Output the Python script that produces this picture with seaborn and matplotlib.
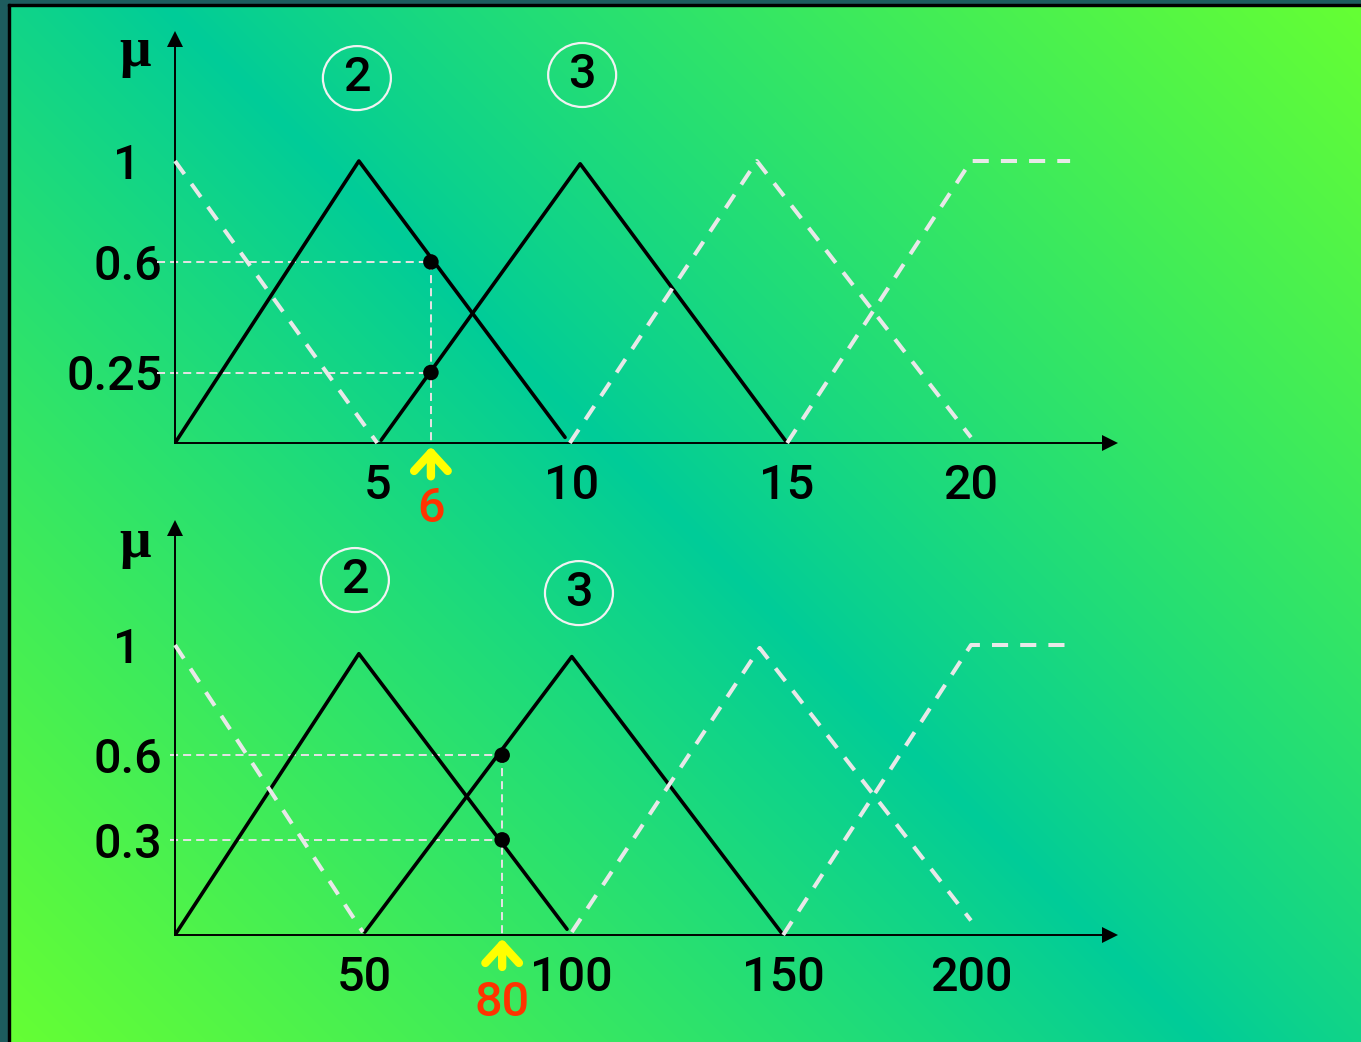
import numpy as np
import pandas as pd
import matplotlib
matplotlib.use("Agg")
import matplotlib.pyplot as plt
import seaborn as sns
from matplotlib.patches import Ellipse, Rectangle

# ---------------- data ----------------
# top panel: input in [0, 20]
top_mf2_x = [0.0, 4.62, 9.80]
top_mf2_y = [0.0, 1.00, 0.02]
top_mf3_x = [5.18, 10.18, 15.38]
top_mf3_y = [0.01, 0.99, 0.0]
top_mf1_x = [0.0, 5.08]
top_mf1_y = [1.0, 0.0]
top_mf4_x = [9.92, 14.62, 20.0]
top_mf4_y = [0.0, 1.0, 0.02]
top_mf5_x = [15.38, 20.0, 22.49]
top_mf5_y = [0.0, 1.0, 1.0]
top_xtick_pos = [5.08, 9.97, 15.38, 20.0]
top_xtick_labels = ["5", "10", "15", "20"]
top_ytick_major = [1.0]
top_ytick_minor = [0.642, 0.25]
top_ytick_minor_labels = ["0.6", "0.25"]
top_input = 6.43
top_input_label = "6"
top_degrees = [0.642, 0.25]
top_circle_labels = ["2", "3"]
top_circle_x = [4.57, 10.23]
top_circle_y = [1.294, 1.305]

# bottom panel: input in [0, 200]
bot_mf2_x = [0.0, 46.2, 98.5]
bot_mf2_y = [0.0, 0.97, 0.02]
bot_mf3_x = [47.7, 99.7, 152.8]
bot_mf3_y = [0.01, 0.96, 0.0]
bot_mf1_x = [0.0, 47.2]
bot_mf1_y = [1.0, 0.01]
bot_mf4_x = [99.7, 146.9, 200.0]
bot_mf4_y = [0.01, 0.99, 0.05]
bot_mf5_x = [152.8, 200.0, 224.9]
bot_mf5_y = [0.0, 1.0, 1.0]
bot_xtick_pos = [47.5, 99.7, 152.8, 200.0]
bot_xtick_labels = ["50", "100", "150", "200"]
bot_ytick_major = [1.0]
bot_ytick_minor = [0.62, 0.328]
bot_ytick_minor_labels = ["0.6", "0.3"]
bot_input = 82.2
bot_input_label = "80"
bot_degrees = [0.62, 0.328]
bot_circle_labels = ["2", "3"]
bot_circle_x = [45.2, 101.5]
bot_circle_y = [1.224, 1.179]

# ---------------- style ----------------
sns.set_style("white")
plt.rcParams["font.family"] = ["Roboto", "DejaVu Sans"]
plt.rcParams["font.weight"] = "medium"
plt.rcParams["axes.facecolor"] = "none"
FS = 35

W, H = 1361, 1042
fig = plt.figure(figsize=(W / 100, H / 100), dpi=100)

# background gradient (teal along the main diagonal, green at the other corners)
yy, xx = np.mgrid[0:H, 0:W]
cx, cy = W / 2, H / 2
t = np.abs((xx - cx) - (yy - cy)) / (cx + cy)
t = np.clip(t, 0, 1) ** 0.9
teal = np.array([0x00, 0xCC, 0x99]) / 255
green = np.array([0x66, 0xFF, 0x33]) / 255
img = teal[None, None, :] + (green - teal)[None, None, :] * t[..., None]
bg = fig.add_axes([0, 0, 1, 1], zorder=-10)
bg.imshow(img, aspect="auto", extent=[0, 1, 0, 1], origin="upper")
bg.set_axis_off()

# frame
dark = "#1d5c5e"
fig.patches.append(Rectangle((0, 0), 8 / W, 1, transform=fig.transFigure, color=dark, zorder=-5))
fig.patches.append(Rectangle((0, 1 - 4 / H), 1, 4 / H, transform=fig.transFigure, color=dark, zorder=-5))
fig.patches.append(Rectangle((8 / W, 0), 2 / W, 1 - 4 / H, transform=fig.transFigure, color="black", zorder=-5))
fig.patches.append(Rectangle((8 / W, 1 - 6 / H), 1 - 8 / W, 2 / H, transform=fig.transFigure, color="black", zorder=-5))

BLACK_LW = 2.6
WHITE = "#E8E8E8"
WHITE_LW = 2.9
GUIDE = "#E2E2E2"


def make_panel(rect, xmax, ymax, mf_black, mf_white, xt_pos, xt_lab, yt_major, yt_minor, yt_minor_lab,
               x_in, x_lab, degrees, circ_lab, circ_x, circ_y, circ_w, circ_h, guide_start,
               label_off, arrow_len, mu_off):
    ax = fig.add_axes(rect)
    ax.set_xlim(0, xmax)
    ax.set_ylim(0, ymax)
    for s in ["top", "right"]:
        ax.spines[s].set_visible(False)
    for s in ["left", "bottom"]:
        ax.spines[s].set_color("black")
        ax.spines[s].set_linewidth(1.4)
    # axis arrowheads
    ax.plot([1], [0], marker=">", color="black", ms=11, mew=0, transform=ax.transAxes, clip_on=False)
    ax.plot([0], [1], marker="^", color="black", ms=11, mew=0, transform=ax.transAxes, clip_on=False)

    # ticks
    ax.set_xticks(xt_pos, xt_lab)
    ax.tick_params(axis="x", direction="inout", length=15, width=1.4, color="black", pad=7,
                   labelsize=FS, labelcolor="black")
    ax.set_yticks(yt_major, ["1"])
    ax.tick_params(axis="y", which="major", direction="out", length=9.5, width=1.4, color="black",
                   pad=15, labelsize=FS, labelcolor="black")
    ax.set_yticks(yt_minor, yt_minor_lab, minor=True)
    ax.tick_params(axis="y", which="minor", length=0, pad=9, labelsize=FS, labelcolor="black")

    # guides
    for d in degrees:
        ax.plot([guide_start, x_in], [d, d], color=GUIDE, lw=1.45, linestyle=(0, (4, 2.5)),
                clip_on=False, zorder=2)
    ax.plot([x_in, x_in], [max(degrees), 0], color=GUIDE, lw=1.45, linestyle=(0, (4, 2.5)),
            clip_on=False, zorder=2)

    # membership functions
    for xs, ys in mf_black:
        df = pd.DataFrame({"x": xs, "y": ys})
        sns.lineplot(data=df, x="x", y="y", ax=ax, color="black", lw=BLACK_LW, sort=False,
                     estimator=None, zorder=3)
    for xs, ys in mf_white:
        df = pd.DataFrame({"x": xs, "y": ys})
        sns.lineplot(data=df, x="x", y="y", ax=ax, color=WHITE, lw=WHITE_LW, sort=False,
                     estimator=None, linestyle=(0, (4, 3)), zorder=4, clip_on=False)

    # intersection points
    dfp = pd.DataFrame({"x": [x_in] * len(degrees), "y": degrees})
    sns.scatterplot(data=dfp, x="x", y="y", ax=ax, color="black", s=125, edgecolor="none",
                    zorder=6, clip_on=False)

    # input arrow + label
    ax.annotate("", xy=(x_in, 0), xycoords="data", xytext=(0, -arrow_len), textcoords="offset points",
                arrowprops=dict(arrowstyle="->,head_length=0.6,head_width=0.55", color="#FFFF00",
                                lw=6, shrinkA=0, shrinkB=2.5, mutation_scale=22),
                annotation_clip=False, zorder=7)
    ax.annotate(x_lab, xy=(x_in, 0), xycoords="data", xytext=(0, -label_off), textcoords="offset points",
                ha="center", va="center", color="#FF3300", fontsize=FS, annotation_clip=False)

    # circled set labels
    for lab, cxp, cyp in zip(circ_lab, circ_x, circ_y):
        ax.add_patch(Ellipse((cxp, cyp), circ_w, circ_h, fill=False, edgecolor="#F2F2F2", lw=1.6,
                             clip_on=False))
        ax.text(cxp, cyp, lab, ha="center", va="center", fontsize=FS, color="black")

    # mu label
    ax.annotate("μ", xy=(0, 1), xycoords="axes fraction", xytext=mu_off, textcoords="offset points",
                ha="center", va="center", fontsize=40, fontweight="bold",
                family=["Liberation Serif", "DejaVu Serif"], color="black", annotation_clip=False)
    ax.set_xlabel("")
    ax.set_ylabel("")
    return ax


top_black = [(top_mf2_x, top_mf2_y), (top_mf3_x, top_mf3_y)]
top_white = [(top_mf1_x, top_mf1_y), (top_mf4_x, top_mf4_y), (top_mf5_x, top_mf5_y)]
bot_black = [(bot_mf2_x, bot_mf2_y), (bot_mf3_x, bot_mf3_y)]
bot_white = [(bot_mf1_x, bot_mf1_y), (bot_mf4_x, bot_mf4_y), (bot_mf5_x, bot_mf5_y)]

# top panel: origin at px (175, 443), 39.8 px per unit, 282 px per mu
ax1 = make_panel([175 / W, (H - 443) / H, (1109.5 - 175) / W, (443 - 38.5) / H],
                 (1109.5 - 175) / 39.8, (443 - 38.5) / 282,
                 top_black, top_white, top_xtick_pos, top_xtick_labels,
                 top_ytick_major, top_ytick_minor, top_ytick_minor_labels,
                 top_input, top_input_label, top_degrees,
                 top_circle_labels, top_circle_x, top_circle_y, 68 / 39.8, 64 / 282,
                 -18 / 39.8, 47.5, 24, (-29, -10))

# bottom panel: origin at px (175, 935), 3.98 px per unit, 290 px per mu
ax2 = make_panel([175 / W, (H - 935) / H, (1109.5 - 175) / W, (935 - 527.5) / H],
                 (1109.5 - 175) / 3.98, (935 - 527.5) / 290,
                 bot_black, bot_white, bot_xtick_pos, bot_xtick_labels,
                 bot_ytick_major, bot_ytick_minor, bot_ytick_minor_labels,
                 bot_input, bot_input_label, bot_degrees,
                 bot_circle_labels, bot_circle_x, bot_circle_y, 68 / 3.98, 64 / 290,
                 -5 / 3.98, 49, 23, (-29, -11))

fig.savefig("out.png", dpi=100)
